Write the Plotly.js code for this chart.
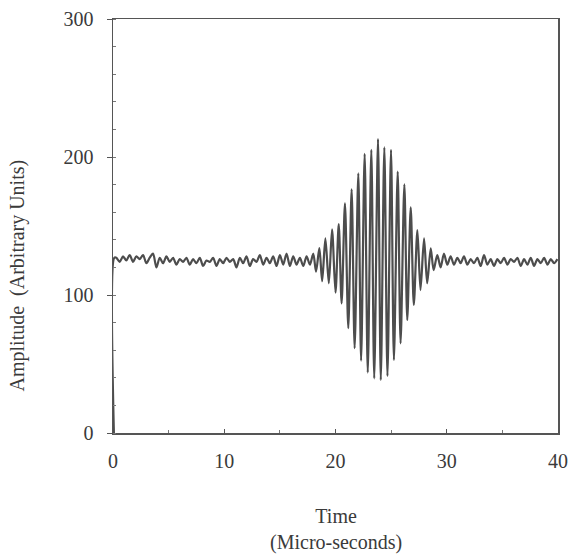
<!DOCTYPE html>
<html>
<head>
<meta charset="utf-8">
<script src="https://cdn.plot.ly/plotly-3.0.1.min.js"></script>
<style>html,body{margin:0;padding:0;background:#fff;}#chart{width:573px;height:554px;}</style>
</head>
<body>
<div id="chart"></div>
<script>
// Initial step at t = 0
var startT = [0.08, 0.12];
var startV = [0, 127];

// Baseline noise before the burst (micro-seconds, arbitrary units)
var preT = [0.3,0.6,0.9,1.2,1.5,1.8,2.1,2.4,2.7,3.0,3.3,3.6,3.9,4.2,4.5,4.8,5.1,5.4,5.7,6.0,6.3,6.6,6.9,7.2,7.5,7.8,8.1,8.4,8.7,9.0,9.3,9.6,9.9,10.2,10.5,10.8,11.1,11.4,11.7,12.0,12.3,12.6,12.9,13.2,13.5,13.8,14.1,14.4,14.7,15.0,15.3,15.6,15.9,16.2,16.5,16.8,17.1,17.4,17.7];
var preV = [127,124,128,125,129,124,128,126,129,123,127,130,120,127,123,128,124,127,122,126,124,127,122,126,123,127,121,125,124,127,121,126,123,127,124,126,120,127,123,128,121,126,124,129,122,127,123,128,121,129,122,130,121,128,122,127,121,128,122];

// Burst peaks
var peakT = [18.0,18.55,19.09,19.69,20.29,20.85,21.45,22.05,22.62,23.22,23.82,24.39,24.99,25.59,26.19,26.76,27.36,27.96,28.56,29.15,29.75];
var peakV = [130,134,141,147.6,151.4,166.4,176.6,188.2,202.2,205.1,213,207,205.1,189.4,180.2,163.5,147.1,141.1,133.8,129,130];

// Burst troughs
var troughT = [18.25,18.8,19.4,20.0,20.55,21.15,21.72,22.3,22.9,23.48,24.07,24.67,25.25,25.85,26.45,27.04,27.64,28.24,28.82,29.45];
var troughV = [117,110,108.5,101.7,94,76,61.4,52.4,43.7,39.6,38.4,41.3,52.9,65,81.9,92.8,103.6,108.5,118,120];

// Baseline noise after the burst
var postT = [30.05,30.35,30.65,30.95,31.25,31.55,31.85,32.15,32.45,32.75,33.05,33.35,33.65,33.95,34.25,34.55,34.85,35.15,35.45,35.75,36.05,36.35,36.65,36.95,37.25,37.55,37.85,38.15,38.45,38.75,39.05,39.35,39.65,39.95];
var postV = [122,128,122,127,123,128,122,126,123,127,121,129,122,126,121,126,123,127,122,126,124,127,121,126,122,127,121,126,123,127,122,126,123,126];

// Axis ticks
var xTicks = [0,10,20,30,40];
var yTicks = [0,100,200,300];

var pts = [];
function add(T, V){ for (var i=0;i<T.length;i++) pts.push([T[i],V[i]]); }
add(startT,startV); add(preT,preV); add(peakT,peakV); add(troughT,troughV); add(postT,postV);
pts.sort(function(a,b){return a[0]-b[0];});

var trace = {
  x: pts.map(function(p){return p[0];}),
  y: pts.map(function(p){return p[1];}),
  type: 'scatter', mode: 'lines',
  line: {color: '#4d4d4d', width: 2.2, shape: 'spline', smoothing: 0.8},
  hoverinfo: 'skip'
};

var font = {family: '"Liberation Serif", "DejaVu Serif", serif', size: 20, color: '#3a3a3a'};

var layout = {
  width: 573, height: 554,
  margin: {l: 113, r: 15, t: 19, b: 121},
  paper_bgcolor: '#fff', plot_bgcolor: '#fff',
  showlegend: false,
  font: font,
  xaxis: {
    range: [0, 40], tickvals: xTicks, ticktext: xTicks.map(String),
    showgrid: false, zeroline: false,
    showline: true, linecolor: '#555', linewidth: 1.5, mirror: true,
    ticks: 'inside', ticklen: 4, tickcolor: '#555', tickwidth: 1,
    minor: {dtick: 5, tick0: 0, ticks: 'inside', ticklen: 3, tickcolor: '#777', showgrid: false},
    tickfont: font, ticklabelstandoff: 9
  },
  yaxis: {
    range: [0, 300], tickvals: yTicks, ticktext: yTicks.map(String),
    showgrid: false, zeroline: false,
    showline: true, linecolor: '#555', linewidth: 1.5, mirror: true,
    ticks: 'outside', ticklen: 5, tickcolor: '#555', tickwidth: 1,
    minor: {dtick: 20, tick0: 0, ticks: 'inside', ticklen: 3, tickcolor: '#777', showgrid: false},
    tickfont: font, ticklabelstandoff: 9
  },
  annotations: [
    {text: 'Time<br>(Micro-seconds)', xref: 'paper', yref: 'paper', x: 0.5, y: -0.233,
     xanchor: 'center', yanchor: 'middle', showarrow: false, font: font, align: 'center'},
    {text: 'Amplitude  (Arbitrary Units)', xref: 'paper', yref: 'paper', x: -0.214, y: 0.38,
     xanchor: 'center', yanchor: 'middle', textangle: -90, showarrow: false, font: font}
  ]
};

Plotly.newPlot('chart', [trace], layout, {displayModeBar: false, staticPlot: true});
</script>
</body>
</html>
